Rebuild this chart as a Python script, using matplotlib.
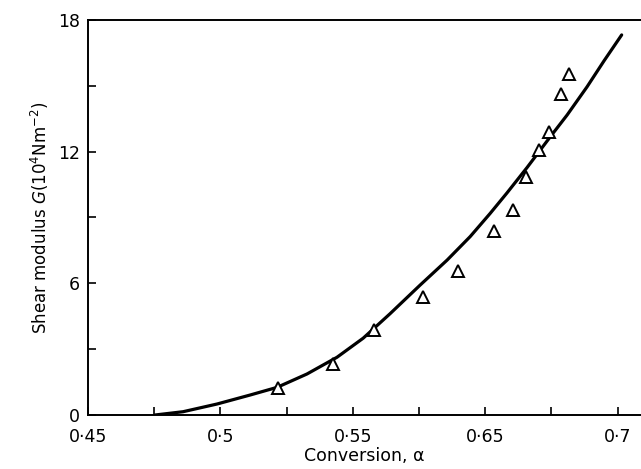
import matplotlib
matplotlib.use("Agg")
import matplotlib.pyplot as plt
from matplotlib.ticker import FixedLocator, MultipleLocator

# Measured points (triangles)
conv_pts = [0.5216, 0.5424, 0.5581, 0.5764, 0.5898, 0.6032, 0.6104, 0.6155, 0.6204, 0.6242, 0.6285, 0.6318]
g_pts = [1.22, 2.32, 3.87, 5.36, 6.58, 8.40, 9.34, 10.83, 12.07, 12.91, 14.63, 15.53]

# Theoretical curve
conv_curve = [0.4753, 0.4859, 0.4987, 0.5112, 0.5214, 0.5327, 0.5440, 0.5539, 0.5640, 0.5754,
              0.5856, 0.5943, 0.6018, 0.6082, 0.6158, 0.6245, 0.6309, 0.6384, 0.6449, 0.6515]
g_curve = [0.0, 0.15, 0.50, 0.91, 1.26, 1.87, 2.63, 3.50, 4.61, 5.92,
           7.06, 8.13, 9.18, 10.12, 11.28, 12.67, 13.67, 14.95, 16.15, 17.32]

x_tick_pos = [0.45, 0.50, 0.55, 0.60, 0.65]
x_tick_labels = ["0·45", "0·5", "0·55", "0·65", "0·7"]
y_ticks = [0, 6, 12, 18]
y_tick_labels = ["0", "6", "12", "18"]

plt.rcParams['font.family'] = ['DejaVu Sans']
plt.rcParams['font.size'] = 12.5

fig = plt.figure(figsize=(6.41, 4.69), dpi=100)
ax = fig.add_axes([88/641, 54/469, 1 - 88/641, 395/469])

ax.plot(conv_curve, g_curve, color='black', lw=2.3, solid_capstyle='round', solid_joinstyle='round')
ax.plot(conv_pts, g_pts, linestyle='none', marker='^', markersize=9,
        markerfacecolor='white', markeredgecolor='black', markeredgewidth=1.4)

ax.set_xlim(0.45, 0.6588)
ax.set_ylim(0, 18)

ax.xaxis.set_major_locator(FixedLocator(x_tick_pos))
ax.set_xticklabels(x_tick_labels)
ax.xaxis.set_minor_locator(MultipleLocator(0.025))
ax.set_yticks(y_ticks)
ax.set_yticklabels(y_tick_labels)
ax.yaxis.set_minor_locator(MultipleLocator(3))

ax.tick_params(which='both', direction='in', length=6, width=1.2, top=False, right=False)
ax.tick_params(axis='x', which='major', pad=9)
ax.tick_params(axis='y', which='major', pad=6)

for s in ['left', 'bottom', 'top']:
    ax.spines[s].set_linewidth(1.4)
ax.spines['right'].set_visible(False)

ax.set_xlabel("Conversion, α", labelpad=1)
ax.set_ylabel(r"Shear modulus $G$(10$^4$Nm$^{-2}$)", labelpad=5, fontsize=12)

fig.savefig("out.png", dpi=100)
